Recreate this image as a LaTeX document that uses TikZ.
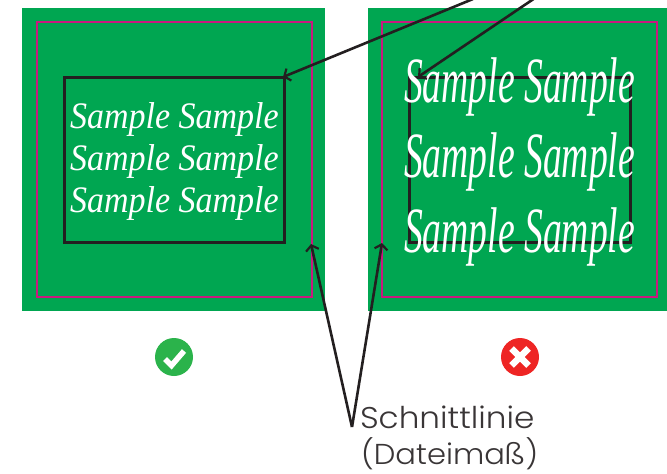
\documentclass[tikz,border=0pt]{standalone}
\usepackage{fontspec}
\setmainfont{Liberation Serif}
\newfontfamily\labelfont{Poppins Light}
\usetikzlibrary{arrows.meta}
\definecolor{pagegreen}{HTML}{00A651}
\definecolor{cutmagenta}{HTML}{C9197F}
\definecolor{inkdark}{HTML}{231F20}
\definecolor{okgreen}{HTML}{2BB34B}
\definecolor{badred}{HTML}{EE2524}
\tikzset{
  x=1pt,y=-1pt,
  sheet/.style={fill=pagegreen,draw=none},
  cutline/.style={draw=cutmagenta,line width=2pt},
  safebox/.style={draw=inkdark,line width=3pt},
  leader/.style={draw=inkdark,line width=2.6pt,-{Straight Barb[length=5pt,width=13pt,line width=2.2pt]}},
  goodtext/.style={anchor=base west,inner sep=0pt,outer sep=0pt,text=white,xscale=1,yscale=1.1,font=\fontsize{34}{34}\selectfont\itshape},
  badtext/.style={anchor=base west,inner sep=0pt,outer sep=0pt,text=white,xscale=1.107,yscale=1.9,font=\fontsize{34}{34}\selectfont\itshape},
  caption/.style={anchor=base west,inner sep=0pt,outer sep=0pt,text=inkdark!90,font=\fontsize{30}{30}\selectfont\labelfont},
  badge/.style={circle,inner sep=0pt,minimum size=38pt}
}
\begin{document}
\begin{tikzpicture}
\useasboundingbox (0,0) rectangle (667,474);
\fill[sheet] (22,8) rectangle (325,311);
\fill[sheet] (368,8) rectangle (667,311);
\draw[cutline] (37,22) rectangle (312,297);
\draw[cutline] (382,22) rectangle (657,297);
\draw[safebox] (64,77) rectangle (284,242);
\draw[safebox] (409.5,77) rectangle (630,242);
\node[goodtext] (l1) at (70,128) {Sample Sample};
\node[goodtext] (l2) at (70,170) {Sample Sample};
\node[goodtext] (l3) at (70,212) {Sample Sample};
\node[badtext] (r1) at (404,102) {Sample Sample};
\node[badtext] (r2) at (404,177) {Sample Sample};
\node[badtext] (r3) at (404,252) {Sample Sample};
\node[badge,fill=okgreen] (ok) at (174,357) {};
\node[badge,fill=badred] (bad) at (520,357) {};
\draw[white,line width=5.5pt] (165,359) -- (171.5,365.5) -- (184,351);
\draw[white,line width=6.5pt] (511.5,348.5) -- (528.5,365.5) (528.5,348.5) -- (511.5,365.5);
\node[caption,xscale=1.09] (cap1) at (360,428) {Schnittlinie};
\node[caption,xscale=1.02,yscale=.96] (cap2) at (361,464) {(Dateimaß)};
\coordinate (topa) at (473,-1);
\coordinate (topb) at (535,-2);
\coordinate (tipa) at (283,77);
\coordinate (tipb) at (418,77);
\coordinate (fork) at (352,427);
\coordinate (tipc) at (311,244);
\coordinate (tipd) at (382,243);
\begin{scope}
\clip (0,0) rectangle (667,474);
\draw[leader] (topa) -- (tipa);
\draw[leader] (topb) -- (tipb);
\draw[leader] (fork) -- (tipc);
\draw[leader] (fork) -- (tipd);
\end{scope}
\end{tikzpicture}
\end{document}
